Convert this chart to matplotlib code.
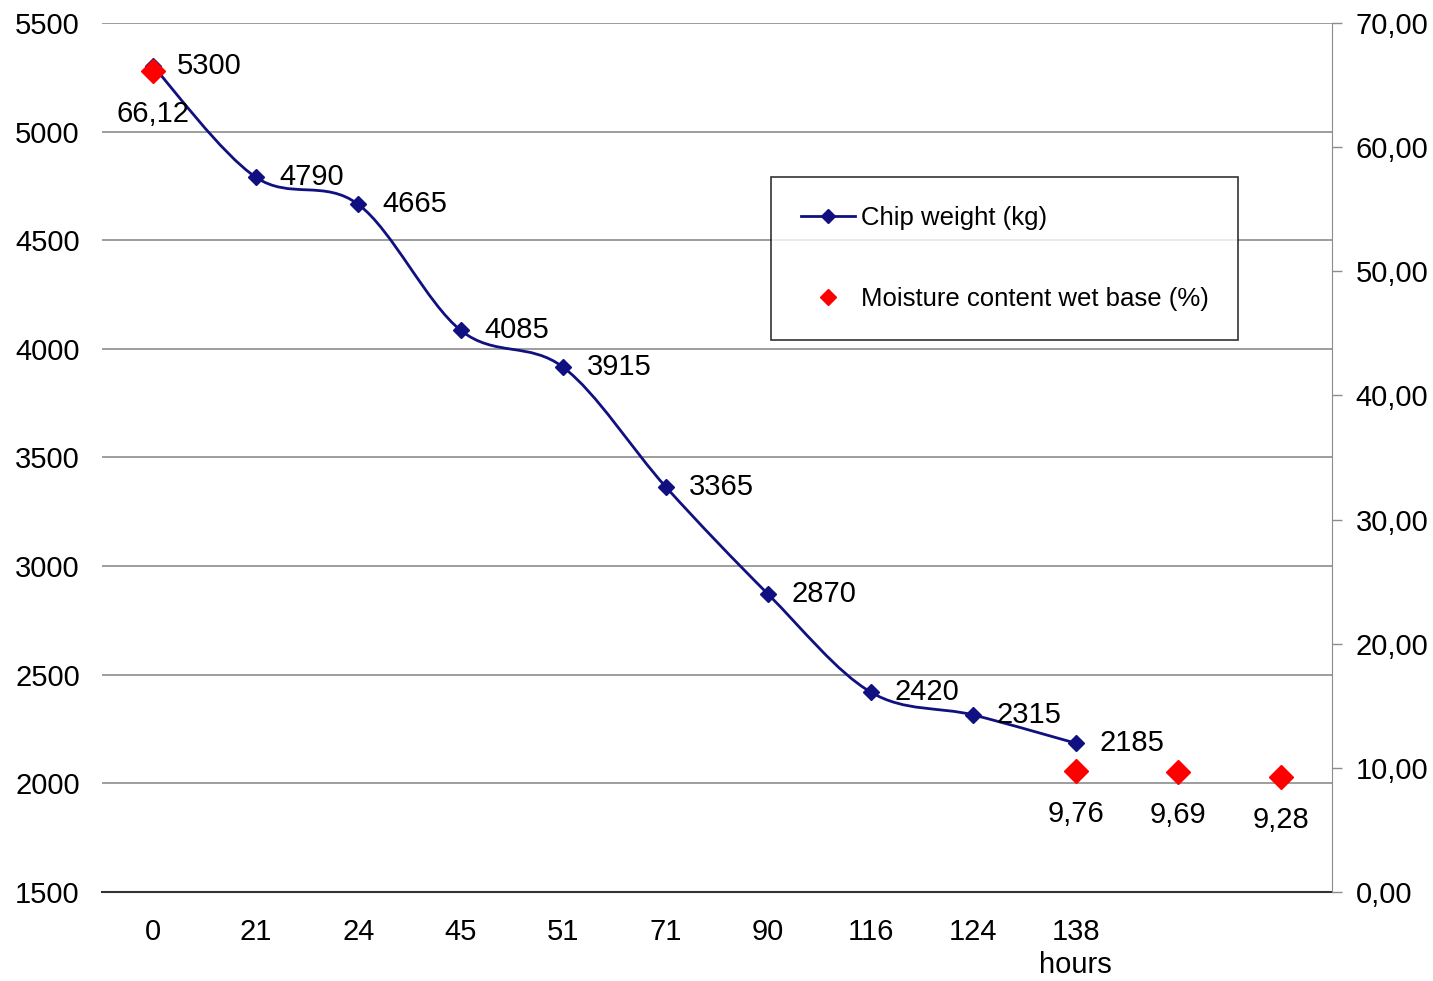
import matplotlib
matplotlib.use("Agg")
import matplotlib.pyplot as plt
import numpy as np
from matplotlib.path import Path
from matplotlib.patches import PathPatch
from matplotlib.lines import Line2D

plt.rcParams["font.family"] = ["Liberation Sans", "DejaVu Sans"]

hours = ["0", "21", "24", "45", "51", "71", "90", "116", "124", "138\nhours", "", ""]
weight_kg = [5300, 4790, 4665, 4085, 3915, 3365, 2870, 2420, 2315, 2185]
moisture_pos = [0, 9, 10, 11]
moisture_pct = [66.12, 9.76, 9.69, 9.28]
moisture_txt = ["66,12", "9,76", "9,69", "9,28"]

NAVY = "#101080"
RED = "#ff0000"
FS = 21


def smooth_path(x, y):
    """Excel-style smoothed line: cubic Bezier segments through the points."""
    pts = np.column_stack([x, y]).astype(float)
    ext = np.vstack([pts[0], pts, pts[-1]])
    verts = [tuple(pts[0])]
    codes = [Path.MOVETO]
    for i in range(1, len(ext) - 2):
        p0, p1, p2, p3 = ext[i - 1], ext[i], ext[i + 1], ext[i + 2]
        c1 = p1 + (p2 - p0) / 6.0
        c2 = p2 - (p3 - p1) / 6.0
        verts += [tuple(c1), tuple(c2), tuple(p2)]
        codes += [Path.CURVE4] * 3
    return Path(verts, codes)


fig = plt.figure(figsize=(14.33, 9.81), dpi=100)
ax = fig.add_axes([0.0712, 0.0907, 0.8583, 0.8859])
ax2 = ax.twinx()

x = np.arange(len(weight_kg))
ax.add_patch(PathPatch(smooth_path(x, weight_kg), fill=False, edgecolor=NAVY, lw=2, zorder=3))
ax.plot(x, weight_kg, ls="none", marker="D", ms=8, color=NAVY, zorder=4)
for xi, w in zip(x, weight_kg):
    ax.annotate(str(w), (xi, w), xytext=(17, 0), textcoords="offset points",
                ha="left", va="center", fontsize=FS, zorder=6)

ax2.plot(moisture_pos, moisture_pct, ls="none", marker="D", ms=12, color=RED, zorder=5)
for xi, m, t in zip(moisture_pos, moisture_pct, moisture_txt):
    ax2.annotate(t, (xi, m), xytext=(0, -31), textcoords="offset points",
                 ha="center", va="center", fontsize=FS, zorder=6)

ax.set_xlim(-0.5, len(hours) - 0.5)
ax.set_ylim(1500, 5500)
ax.set_yticks(np.arange(1500, 5501, 500))
ax.yaxis.grid(True, color="#8c8c8c", lw=1.2)
ax.set_axisbelow(True)
ax.set_xticks(np.arange(len(hours)))
ax.set_xticklabels(hours, fontsize=FS, linespacing=1.2)
ax.tick_params(axis="x", length=0, pad=19)
ax.tick_params(axis="y", length=0, pad=16, labelsize=FS)

ax2.set_ylim(0, 70)
ax2.set_yticks(np.arange(0, 71, 10))
ax2.set_yticklabels([f"{v:.2f}".replace(".", ",") for v in np.arange(0, 71, 10)])
ax2.tick_params(axis="y", length=7, width=1, color="#8c8c8c", pad=10, labelsize=FS)

for a in (ax, ax2):
    a.spines["top"].set_visible(False)
    a.spines["left"].set_visible(False)
    a.spines["right"].set_visible(False)
ax.spines["bottom"].set_color("#333333")
ax.spines["bottom"].set_linewidth(1.5)
ax2.spines["right"].set_visible(True)
ax2.spines["right"].set_color("#8c8c8c")
ax2.spines["bottom"].set_visible(False)

handles = [
    Line2D([], [], color=NAVY, lw=2, marker="D", ms=7),
    Line2D([], [], ls="none", color=RED, marker="D", ms=8),
]
leg = ax2.legend(handles, ["Chip weight (kg)", "Moisture content wet base (%)"],
                 loc="upper left", bbox_to_anchor=(0.544, 0.823), frameon=True,
                 fancybox=False, edgecolor="black", fontsize=18.5,
                 borderpad=1.15, labelspacing=2.2, handlelength=2.1,
                 handletextpad=0.25, borderaxespad=0)
leg.get_frame().set_linewidth(1.2)

fig.savefig("out.png", dpi=100, facecolor="white")
